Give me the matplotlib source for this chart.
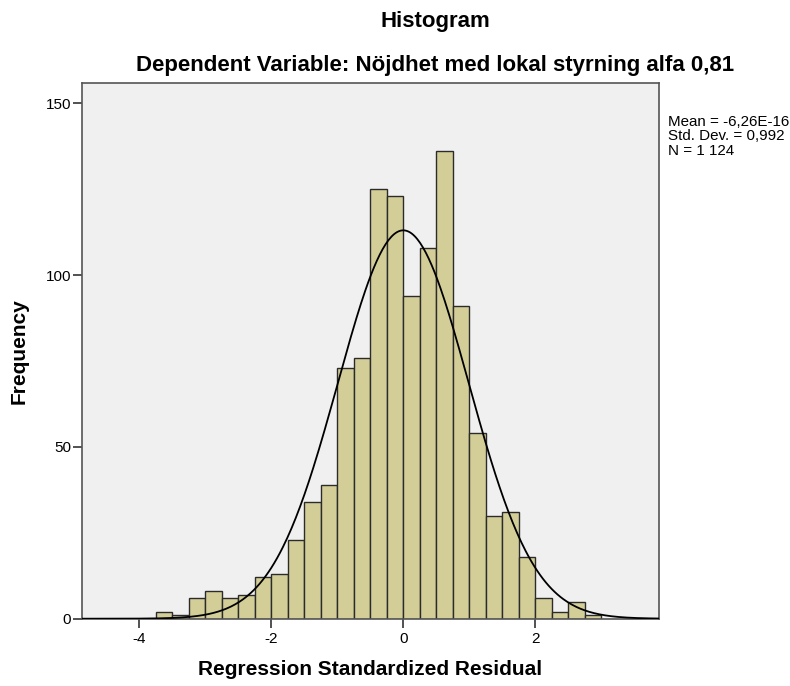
import numpy as np
from matplotlib import pyplot as plt

plt.rcParams['font.family'] = ['Liberation Sans', 'DejaVu Sans']

# left edges of the histogram bins (width 0.25) and counts
bin_left = [-3.75, -3.5, -3.25, -3.0, -2.75, -2.5, -2.25, -2.0, -1.75, -1.5,
            -1.25, -1.0, -0.75, -0.5, -0.25, 0.0, 0.25, 0.5, 0.75, 1.0,
            1.25, 1.5, 1.75, 2.0, 2.25, 2.5, 2.75]
counts = [2, 1, 6, 8, 6, 7, 12, 13, 23, 34,
          39, 73, 76, 125, 123, 94, 108, 136, 91, 54,
          30, 31, 18, 6, 2, 5, 1]
bin_width = 0.25
mean = -6.26e-16
std = 0.992
n = 1124

xticks = [-4, -2, 0, 2]
yticks = [0, 50, 100, 150]

fig = plt.figure(figsize=(7.9, 6.86), dpi=100)
ax = fig.add_axes([0.1034, 0.0981, 0.7304, 0.781])
ax.set_facecolor('#f0f0f0')

ax.bar(bin_left, counts, width=bin_width, align='edge',
       color='#d3ce98', edgecolor='#2b2b2b', linewidth=1.0, zorder=2)

# normal curve
xs = np.linspace(-4.87, 3.87, 400)
ys = n * bin_width / (std * np.sqrt(2 * np.pi)) * np.exp(-0.5 * ((xs - mean) / std) ** 2)
ax.plot(xs, ys, color='black', linewidth=1.3, zorder=3)

ax.set_xlim(-4.873, 3.870)
ax.set_ylim(0, 155.9)
ax.set_xticks(xticks)
ax.set_xticklabels(['-4', '-2', '0', '2'])
ax.set_yticks(yticks)
ax.tick_params(direction='out', length=6.5, width=1.2, color='#333333',
               labelsize=11)
ax.tick_params(axis='x', pad=3)
ax.tick_params(axis='y', pad=1)
for s in ax.spines.values():
    s.set_color('#555555')
    s.set_linewidth(1.2)

ax.set_xlabel('Regression Standardized Residual', fontsize=15, fontweight='bold', labelpad=10)
ax.set_ylabel('Frequency', fontsize=15, fontweight='bold', labelpad=12)

fig.text(0.5506, 0.969, 'Histogram', ha='center', va='center', fontsize=16, fontweight='bold')
fig.text(0.5506, 0.905, 'Dependent Variable: Nöjdhet med lokal styrning alfa 0,81',
         ha='center', va='center', fontsize=16, fontweight='bold')

fig.text(0.846, 0.833, 'Mean = -6,26E-16\nStd. Dev. = 0,992\nN = 1 124',
         ha='left', va='top', fontsize=10.9, linespacing=1.08)

plt.savefig('out.png', dpi=100)
